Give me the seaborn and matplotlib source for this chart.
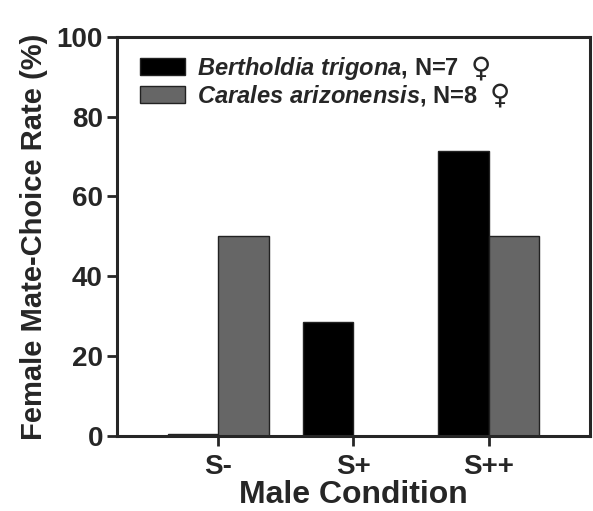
import pandas as pd
import matplotlib
matplotlib.use("Agg")
import matplotlib.pyplot as plt
import seaborn as sns

# data
conditions = ["S-", "S+", "S++"]
species = ["Bertholdia trigona", "Carales arizonensis"]
n_females = [7, 8]
bertholdia = [0.5, 28.6, 71.4]
carales = [50.0, 0.0, 50.0]

df = pd.DataFrame({
    "Condition": conditions * 2,
    "Species": [species[0]] * 3 + [species[1]] * 3,
    "Rate": bertholdia + carales,
})

sns.set_style("ticks")
plt.rcParams["font.family"] = ["Liberation Sans", "DejaVu Sans"]
plt.rcParams["font.weight"] = "bold"
plt.rcParams["mathtext.fontset"] = "custom"
plt.rcParams["mathtext.it"] = "Liberation Sans:italic:bold"
plt.rcParams["mathtext.rm"] = "Liberation Sans:bold"

fig = plt.figure(figsize=(5.93, 5.11), dpi=100)
ax = fig.add_axes([0.197, 0.147, 0.798, 0.781])

sns.barplot(data=df, x="Condition", y="Rate", hue="Species",
            palette=["#000000", "#666666"], width=0.75,
            edgecolor="#222222", linewidth=1, ax=ax)

ax.set_xlim(-0.75, 2.75)
ax.set_ylim(0, 100)
ax.set_yticks([0, 20, 40, 60, 80, 100])
ax.set_xlabel("Male Condition", fontsize=23, fontweight="bold", labelpad=0)
ax.set_ylabel("Female Mate-Choice Rate (%)", fontsize=21, fontweight="bold", labelpad=6)
ax.tick_params(axis="both", labelsize=20, width=2, length=7, direction="out", pad=3)
ax.tick_params(axis="x", pad=6)
for lbl in ax.get_xticklabels() + ax.get_yticklabels():
    lbl.set_fontweight("bold")
for s in ax.spines.values():
    s.set_linewidth(2.2)
    s.set_visible(True)

handles, _ = ax.get_legend_handles_labels()
labels = []
for sp, n in zip(species, n_females):
    labels.append("$\\it{" + sp.replace(" ", "\\ ") + "}$, N=%d" % n)
leg = ax.legend(handles, labels, loc="upper left", frameon=False,
                fontsize=17, handlelength=1.9, handleheight=0.7,
                handletextpad=0.5, labelspacing=0.05,
                bbox_to_anchor=(0.02, 0.99), borderaxespad=0.2)
for t in leg.get_texts():
    t.set_fontweight("bold")

# female symbol after each legend entry, thinner and a bit larger
fig.canvas.draw()
r = fig.canvas.get_renderer()
inv = fig.transFigure.inverted()
for t in leg.get_texts():
    bb = t.get_window_extent(r)
    x0, y0 = inv.transform((bb.x1 + 12, (bb.y0 + bb.y1) / 2))
    fig.text(x0, y0, "\u2640", family="DejaVu Sans", fontweight="normal",
             fontsize=20, va="center", ha="left")

fig.savefig("out.png", dpi=100)
